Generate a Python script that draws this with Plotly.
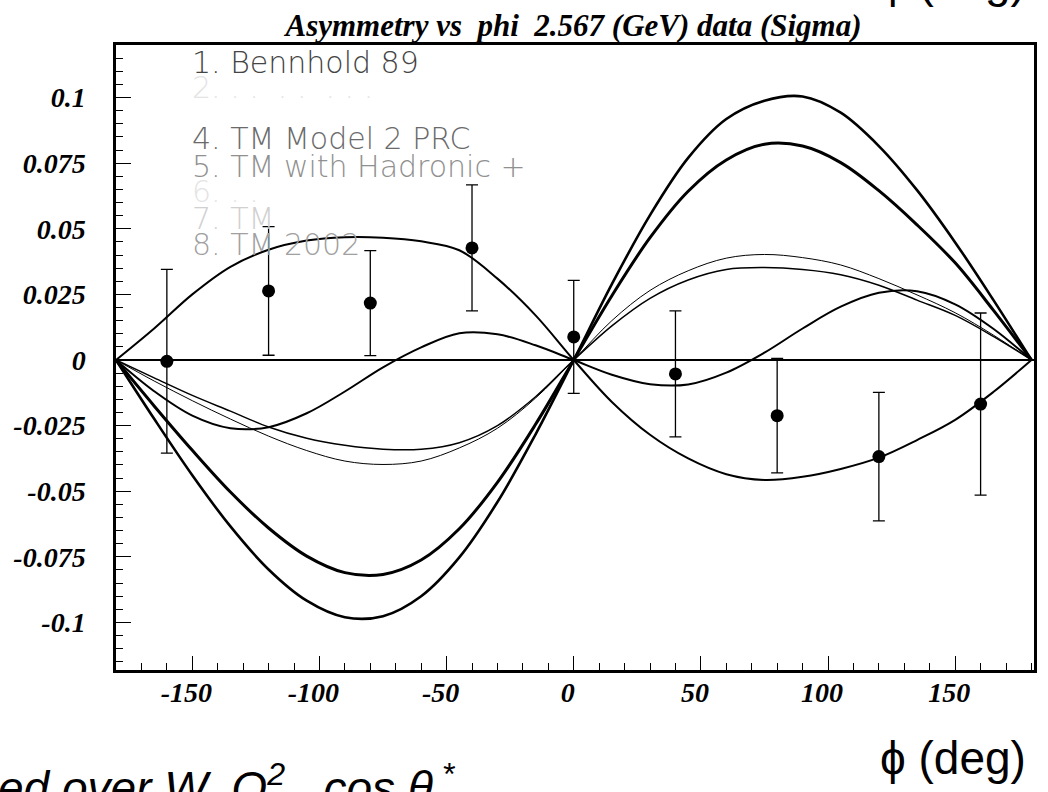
import plotly.graph_objects as go

# ---------------- data ----------------
phi_grid = [-180, -165, -150, -135, -120, -105, -90, -75, -60, -45, -30, -15, 0,
            15, 30, 45, 60, 75, 90, 105, 120, 135, 150, 165, 180]

model_a = [0, -0.0224, -0.0439, -0.0634, -0.0798, -0.0917, -0.0980, -0.0976, -0.0900, -0.0752, -0.0541, -0.0283, 0,
           0.0289, 0.0552, 0.0770, 0.0918, 0.0988, 0.1004, 0.0942, 0.0815, 0.0647, 0.0448, 0.0229, 0]
model_b = [0, -0.0175, -0.0344, -0.0503, -0.0640, -0.0747, -0.0810, -0.0817, -0.0762, -0.0643, -0.0466, -0.0245, 0,
           0.0245, 0.0466, 0.0643, 0.0762, 0.0822, 0.0815, 0.0752, 0.0645, 0.0515, 0.0370, 0.0190, 0]
model_c = [0, -0.0080, -0.0155, -0.0225, -0.0290, -0.0345, -0.0385, -0.0398, -0.0385, -0.0335, -0.0260, -0.0145, 0,
           0.0150, 0.0265, 0.0340, 0.0388, 0.0402, 0.0390, 0.0362, 0.0310, 0.0248, 0.0180, 0.0095, 0]
model_d = [0, -0.0068, -0.0135, -0.0195, -0.0255, -0.0298, -0.0325, -0.0340, -0.0340, -0.0315, -0.0250, -0.0140, 0,
           0.0130, 0.0235, 0.0305, 0.0345, 0.0352, 0.0345, 0.0325, 0.0285, 0.0228, 0.0170, 0.0090, 0]
model_e = [0, -0.0119, -0.0212, -0.0260, -0.0256, -0.0203, -0.0120, -0.0028, 0.0048, 0.0102, 0.0098, 0.0056, 0,
           -0.0056, -0.0092, -0.0093, -0.0048, 0.0028, 0.0120, 0.0203, 0.0256, 0.0262, 0.0212, 0.0119, 0]
model_f = [0, 0.0120, 0.0250, 0.0355, 0.0420, 0.0455, 0.0468, 0.0466, 0.0452, 0.0418, 0.0310, 0.0170, 0,
           -0.0160, -0.0285, -0.0375, -0.0435, -0.0457, -0.0445, -0.0415, -0.0372, -0.0305, -0.0228, -0.0122, 0]

phi_data = [-160, -120, -80, -40, 0, 40, 80, 120, 160]
asym_data = [-0.0005, 0.0263, 0.0217, 0.0427, 0.0088, -0.0053, -0.0212, -0.0368, -0.0168]
asym_err = [0.0350, 0.0245, 0.0200, 0.0240, 0.0215, 0.0240, 0.0218, 0.0245, 0.0347]

x_tick_vals = [-150, -100, -50, 0, 50, 100, 150]
x_tick_text = ["-150", "-100", "-50", "0", "50", "100", "150"]
y_tick_vals = [0.1, 0.075, 0.05, 0.025, 0, -0.025, -0.05, -0.075, -0.1]
y_tick_text = ["0.1", "0.075", "0.05", "0.025", "0", "-0.025", "-0.05", "-0.075", "-0.1"]

title_text = "Asymmetry vs\u00a0\u00a0phi\u00a0\u00a02.567 (GeV) data (Sigma)"
legend_lines = ["1. Bennhold 89", "2. . .  . .  . . .", "4. TM Model 2 PRC",
                "5. TM with Hadronic +", "6. . .", "7. TM", "8. TM 2002"]
legend_colors = ["#444444", "#e4e4e4", "#6a6a6a", "#909090", "#e4e4e4", "#d0d0d0", "#a0a0a0"]
legend_center_px = [62, 88, 138, 166, 192, 218, 245]

# ---------------- layout geometry ----------------
W, H = 1048, 792
L, R, T, B = 116, 11, 45, 122
PW, PH = W - L - R, H - T - B


def px2x(px):
    return (px - L) / PW


def py2y(py):
    return (H - B - py) / PH


fig = go.Figure()

curve_styles = [
    (model_a, 2.6),
    (model_b, 3.0),
    (model_c, 1.0),
    (model_d, 1.5),
    (model_e, 2.0),
    (model_f, 2.0),
]
for ys, w in curve_styles:
    fig.add_trace(go.Scatter(x=phi_grid, y=ys, mode="lines",
                             line=dict(color="black", width=w, shape="spline", smoothing=1.0),
                             showlegend=False, hoverinfo="skip"))

fig.add_trace(go.Scatter(
    x=phi_data, y=asym_data, mode="markers",
    marker=dict(color="black", size=13),
    error_y=dict(type="data", array=asym_err, visible=True, color="black", thickness=1.3, width=6),
    showlegend=False))

tick_font = dict(family="Liberation Serif", size=28, color="black", weight="bold", style="italic")

fig.update_layout(
    width=W, height=H,
    margin=dict(l=L, r=R, t=T, b=B, pad=0),
    paper_bgcolor="white", plot_bgcolor="white",
    showlegend=False,
    title=dict(text=title_text, x=px2x(575), xref="paper", xanchor="center",
               y=1 - 25 / H, yref="container", yanchor="middle",
               font=dict(family="Liberation Serif", size=31, color="black", weight="bold", style="italic")),
    xaxis=dict(range=[-180, 181], showgrid=False, zeroline=False,
               showline=True, linecolor="black", linewidth=2.5, mirror=True,
               tickmode="array", tickvals=x_tick_vals, ticktext=x_tick_text,
               ticks="inside", ticklen=14, tickwidth=1.3, tickcolor="black",
               minor=dict(tickmode="linear", tick0=0, dtick=10, ticks="inside",
                          ticklen=7, tickwidth=1.2, tickcolor="black"),
               tickfont=tick_font, ticklabelstandoff=-4, ticklabelshift=-6),
    yaxis=dict(range=[-0.1181, 0.12], showgrid=False,
               zeroline=True, zerolinecolor="black", zerolinewidth=1.5,
               showline=True, linecolor="black", linewidth=2.5, mirror=True,
               tickmode="array", tickvals=y_tick_vals, ticktext=y_tick_text,
               ticks="inside", ticklen=15, tickwidth=1.3, tickcolor="black",
               minor=dict(tickmode="linear", tick0=0, dtick=0.005, ticks="inside",
                          ticklen=7, tickwidth=1.2, tickcolor="black"),
               tickfont=tick_font, ticklabelstandoff=22),
)

# legend-like text block inside the frame
for txt, col, cy in zip(legend_lines, legend_colors, legend_center_px):
    fig.add_annotation(text=txt, xref="paper", yref="paper",
                       x=px2x(190), y=py2y(cy), xanchor="left", yanchor="middle",
                       showarrow=False,
                       font=dict(family="DejaVu Sans", size=30, color=col, weight=200))

# axis label at bottom right
fig.add_annotation(text="\u03d5 (deg)", xref="paper", yref="paper",
                   x=px2x(956), y=py2y(758), xanchor="center", yanchor="middle",
                   showarrow=False, font=dict(family="Liberation Sans", size=46, color="black"))
# cut-off label at top right (from the panel above)
fig.add_annotation(text="\u03d5 (deg)", xref="paper", yref="paper",
                   x=px2x(956), y=py2y(-19), xanchor="center", yanchor="middle",
                   showarrow=False, font=dict(family="Liberation Sans", size=46, color="black"))
# cut-off caption at bottom left
fig.add_annotation(text="ed over W, Q<sup>2</sup> , cos \u03b8<sup> *</sup>", xref="paper", yref="paper",
                   x=px2x(-4), y=py2y(785), xanchor="left", yanchor="middle",
                   showarrow=False,
                   font=dict(family="Liberation Sans", size=46, color="black", style="italic"))

fig.write_html("out.html")
